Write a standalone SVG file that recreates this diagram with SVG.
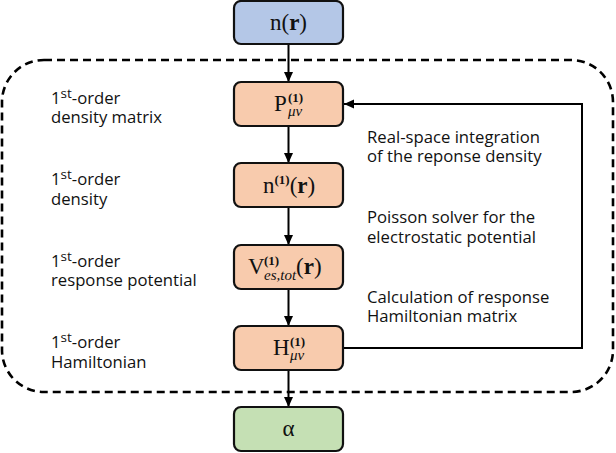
<svg xmlns="http://www.w3.org/2000/svg" width="616" height="453" viewBox="0 0 616 453">
<defs>
<marker id="ah" viewBox="0 0 10 10" refX="10" refY="5" markerWidth="10" markerHeight="10" markerUnits="userSpaceOnUse" orient="auto">
<path d="M0,0.5 L10,5 L0,9.5 Z" fill="#000"/>
</marker>
<style>
.box{stroke:#111;stroke-width:2.2}
.blue{fill:#b4c7e7}
.orange{fill:#f8cbad}
.green{fill:#c5e0b4}
.m{font-family:"Liberation Serif","DejaVu Serif",serif;fill:#111}
.big{font-size:23px}
.sup{font-size:13px;font-weight:bold}
.sub{font-size:15px;font-style:italic}
.lbl{font-family:"Open Sans","Noto Sans",sans-serif;font-size:16.7px;fill:#111}
.st{font-size:13.5px}
.conn{stroke:#000;stroke-width:2;fill:none}
</style>
</defs>
<rect x="2" y="60" width="611" height="332" rx="42" ry="42" fill="none" stroke="#000" stroke-width="2.6" stroke-dasharray="8,5"/>
<g id="connectors">
<line class="conn" x1="288.5" y1="44" x2="288.5" y2="82" marker-end="url(#ah)"/>
<line class="conn" x1="288.5" y1="126" x2="288.5" y2="163" marker-end="url(#ah)"/>
<line class="conn" x1="288.5" y1="207" x2="288.5" y2="245" marker-end="url(#ah)"/>
<line class="conn" x1="288.5" y1="289" x2="288.5" y2="326" marker-end="url(#ah)"/>
<line class="conn" x1="288.5" y1="370" x2="288.5" y2="407" marker-end="url(#ah)"/>
<polyline class="conn" points="343,348 582,348 582,104 344,104" marker-end="url(#ah)"/>
</g>
<g id="n_r">
<rect class="box blue" x="234" y="1" width="109" height="43" rx="7"/>
<text class="m big" x="288.5" y="30" text-anchor="middle">n(<tspan font-weight="bold">r</tspan>)</text>
</g>
<g id="P1">
<rect class="box orange" x="234" y="82" width="109" height="44" rx="7"/>
<text class="m big" x="274" y="111">P</text>
<text class="m sup" x="288" y="102">(1)</text>
<text class="m sub" x="288" y="116">μv</text>
</g>
<g id="n1">
<rect class="box orange" x="234" y="163" width="109" height="44" rx="7"/>
<text class="m big" x="263" y="193">n<tspan class="sup" dy="-9">(1)</tspan><tspan dy="9">(<tspan font-weight="bold">r</tspan>)</tspan></text>
</g>
<g id="V1">
<rect class="box orange" x="234" y="245" width="109" height="44" rx="7"/>
<text class="m big" x="248" y="274">V</text>
<text class="m sup" x="264" y="265">(1)</text>
<text class="m sub" x="264" y="280">es,tot</text>
<text class="m big" x="296" y="274">(<tspan font-weight="bold">r</tspan>)</text>
</g>
<g id="H1">
<rect class="box orange" x="234" y="326" width="109" height="44" rx="7"/>
<text class="m big" x="273" y="355">H</text>
<text class="m sup" x="290" y="346">(1)</text>
<text class="m sub" x="290" y="360">μv</text>
</g>
<g id="alpha">
<rect class="box green" x="234" y="407" width="109" height="44" rx="7"/>
<text class="m big" x="288.5" y="436" text-anchor="middle">α</text>
</g>
<g id="left-labels">
<text class="lbl" x="51" y="104">1<tspan class="st" dy="-6">st</tspan><tspan dy="6">-order</tspan></text>
<text class="lbl" x="51" y="123">density matrix</text>
<text class="lbl" x="51" y="185">1<tspan class="st" dy="-6">st</tspan><tspan dy="6">-order</tspan></text>
<text class="lbl" x="51" y="205">density</text>
<text class="lbl" x="51" y="267">1<tspan class="st" dy="-6">st</tspan><tspan dy="6">-order</tspan></text>
<text class="lbl" x="51" y="286">response potential</text>
<text class="lbl" x="51" y="348">1<tspan class="st" dy="-6">st</tspan><tspan dy="6">-order</tspan></text>
<text class="lbl" x="51" y="368">Hamiltonian</text>
</g>
<g id="right-labels">
<text class="lbl" x="367" y="143">Real-space integration</text>
<text class="lbl" x="367" y="162">of the reponse density</text>
<text class="lbl" x="367" y="223">Poisson solver for the</text>
<text class="lbl" x="367" y="243">electrostatic potential</text>
<text class="lbl" x="367" y="303">Calculation of response</text>
<text class="lbl" x="367" y="322">Hamiltonian matrix</text>
</g>
</svg>
